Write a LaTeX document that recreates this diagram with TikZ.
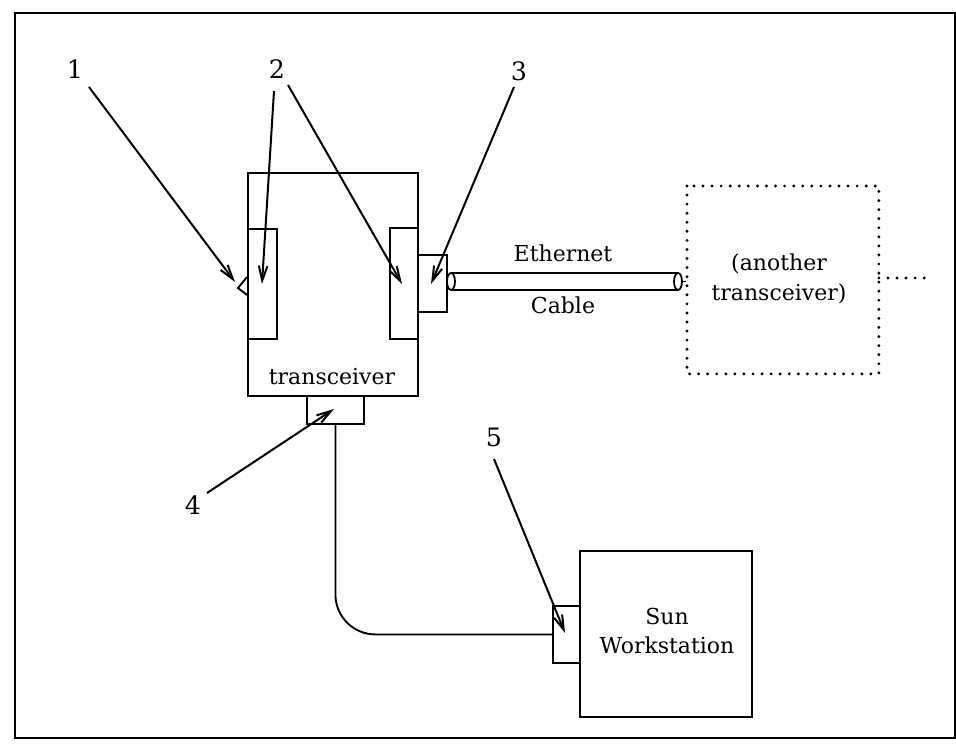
\documentclass[tikz,border=0pt]{standalone}
\usepackage{fontspec}
\setmainfont{DejaVu Serif}
\usetikzlibrary{arrows.meta}
\def\px{0.75pt}
\begin{document}
\begin{tikzpicture}[x=0.75pt,y=-0.75pt,
  box/.style={draw,line width=1.4pt,inner sep=0pt,anchor=north west},
  lbl/.style={font=\fontsize{16.5}{19}\selectfont,inner sep=0pt},
  num/.style={font=\fontsize{19}{21}\selectfont,inner sep=0pt},
  arr/.style={line width=1.5pt,-{Straight Barb[length=11pt,width=6.5pt,line width=1.5pt]}},
  dotline/.style={line width=2.4pt,line cap=round,dash pattern=on 0pt off 6.8pt},
  cable/.style={line width=2.2pt}]
\useasboundingbox (0,0) rectangle (956,748);
% frame
\node[box,line width=1.8pt,minimum width=940*\px,minimum height=725*\px] (frame) at (14,12) {};
% transceiver and its parts
\node[box,minimum width=170*\px,minimum height=223*\px] (tr) at (247,172) {};
\node[box,minimum width=29*\px,minimum height=110*\px] (slotL) at (247,228) {};
\node[box,minimum width=28*\px,minimum height=111*\px] (slotR) at (389,227) {};
\node[box,minimum width=29*\px,minimum height=57*\px] (conn3) at (417,254) {};
\node[box,minimum width=57*\px,minimum height=28*\px] (plug) at (306,395) {};
\node[lbl] (trtext) at (332,377) {transceiver};
% notch at left side
\coordinate (n1) at (247,277);
\coordinate (n2) at (238,288);
\coordinate (n3) at (247,295);
\draw[line width=1.4pt] (n1) -- (n2) -- (n3);
% ethernet cable
\coordinate (cabL) at (451,281.5);
\coordinate (cabR) at (678,281.5);
\draw[cable] ([yshift=-8.5*\px]cabL) -- ([yshift=-8.5*\px]cabR);
\draw[cable] ([yshift=8.5*\px]cabL) -- ([yshift=8.5*\px]cabR);
\draw[line width=1.3pt,fill=white] (cabL) ellipse [x radius=4,y radius=8.5];
\draw[line width=1.3pt,fill=white] (cabR) ellipse [x radius=4,y radius=8.5];
\draw[line width=1.4pt] (cabR) ++(4,0) -- (686,281.5);
\node[lbl] (eth) at (563,253) {Ethernet};
\node[lbl] (cab) at (563,305) {Cable};
% other transceiver
\node[box,draw=none,minimum width=190*\px,minimum height=186*\px] (ot) at (687,186) {};
\draw[dotline] (ot.north west) rectangle (ot.south east);
\node[lbl,align=center] (ottext) at (779,279) {(another\\[3pt]transceiver)};
\coordinate (dotend) at (931,278);
\draw[dotline] (ot.east |- dotend) -- (dotend);
% workstation
\node[box,minimum width=172*\px,minimum height=166*\px] (ws) at (579,550) {};
\node[box,minimum width=27*\px,minimum height=57*\px] (conn5) at (552,605) {};
\node[lbl,align=center] (wstext) at (667,631) {Sun\\[3pt]Workstation};
% transceiver cable
\draw[line width=1.4pt,rounded corners=30pt] (plug.south) |- (conn5.west);
% numbers and arrows
\node[num] (l1) at (75,69) {1};
\node[num] (l2) at (277,69) {2};
\node[num] (l3) at (519,71) {3};
\node[num] (l4) at (193,505) {4};
\node[num] (l5) at (494,437) {5};
\coordinate (s1) at (89,87);
\coordinate (t1) at (235,282);
\coordinate (s2a) at (274,91);
\coordinate (t2a) at (262,284);
\coordinate (s2b) at (288,85);
\coordinate (t2b) at (402,284);
\coordinate (s3) at (514,87);
\coordinate (t3) at (431,284);
\coordinate (s4) at (207,493);
\coordinate (t4) at (334,409);
\coordinate (s5) at (494,459);
\coordinate (t5) at (565,633);
\draw[arr] (s1) -- (t1);
\draw[arr] (s2a) -- (t2a);
\draw[arr] (s2b) -- (t2b);
\draw[arr] (s3) -- (t3);
\draw[arr] (s4) -- (t4);
\draw[arr] (s5) -- (t5);
\end{tikzpicture}
\end{document}
